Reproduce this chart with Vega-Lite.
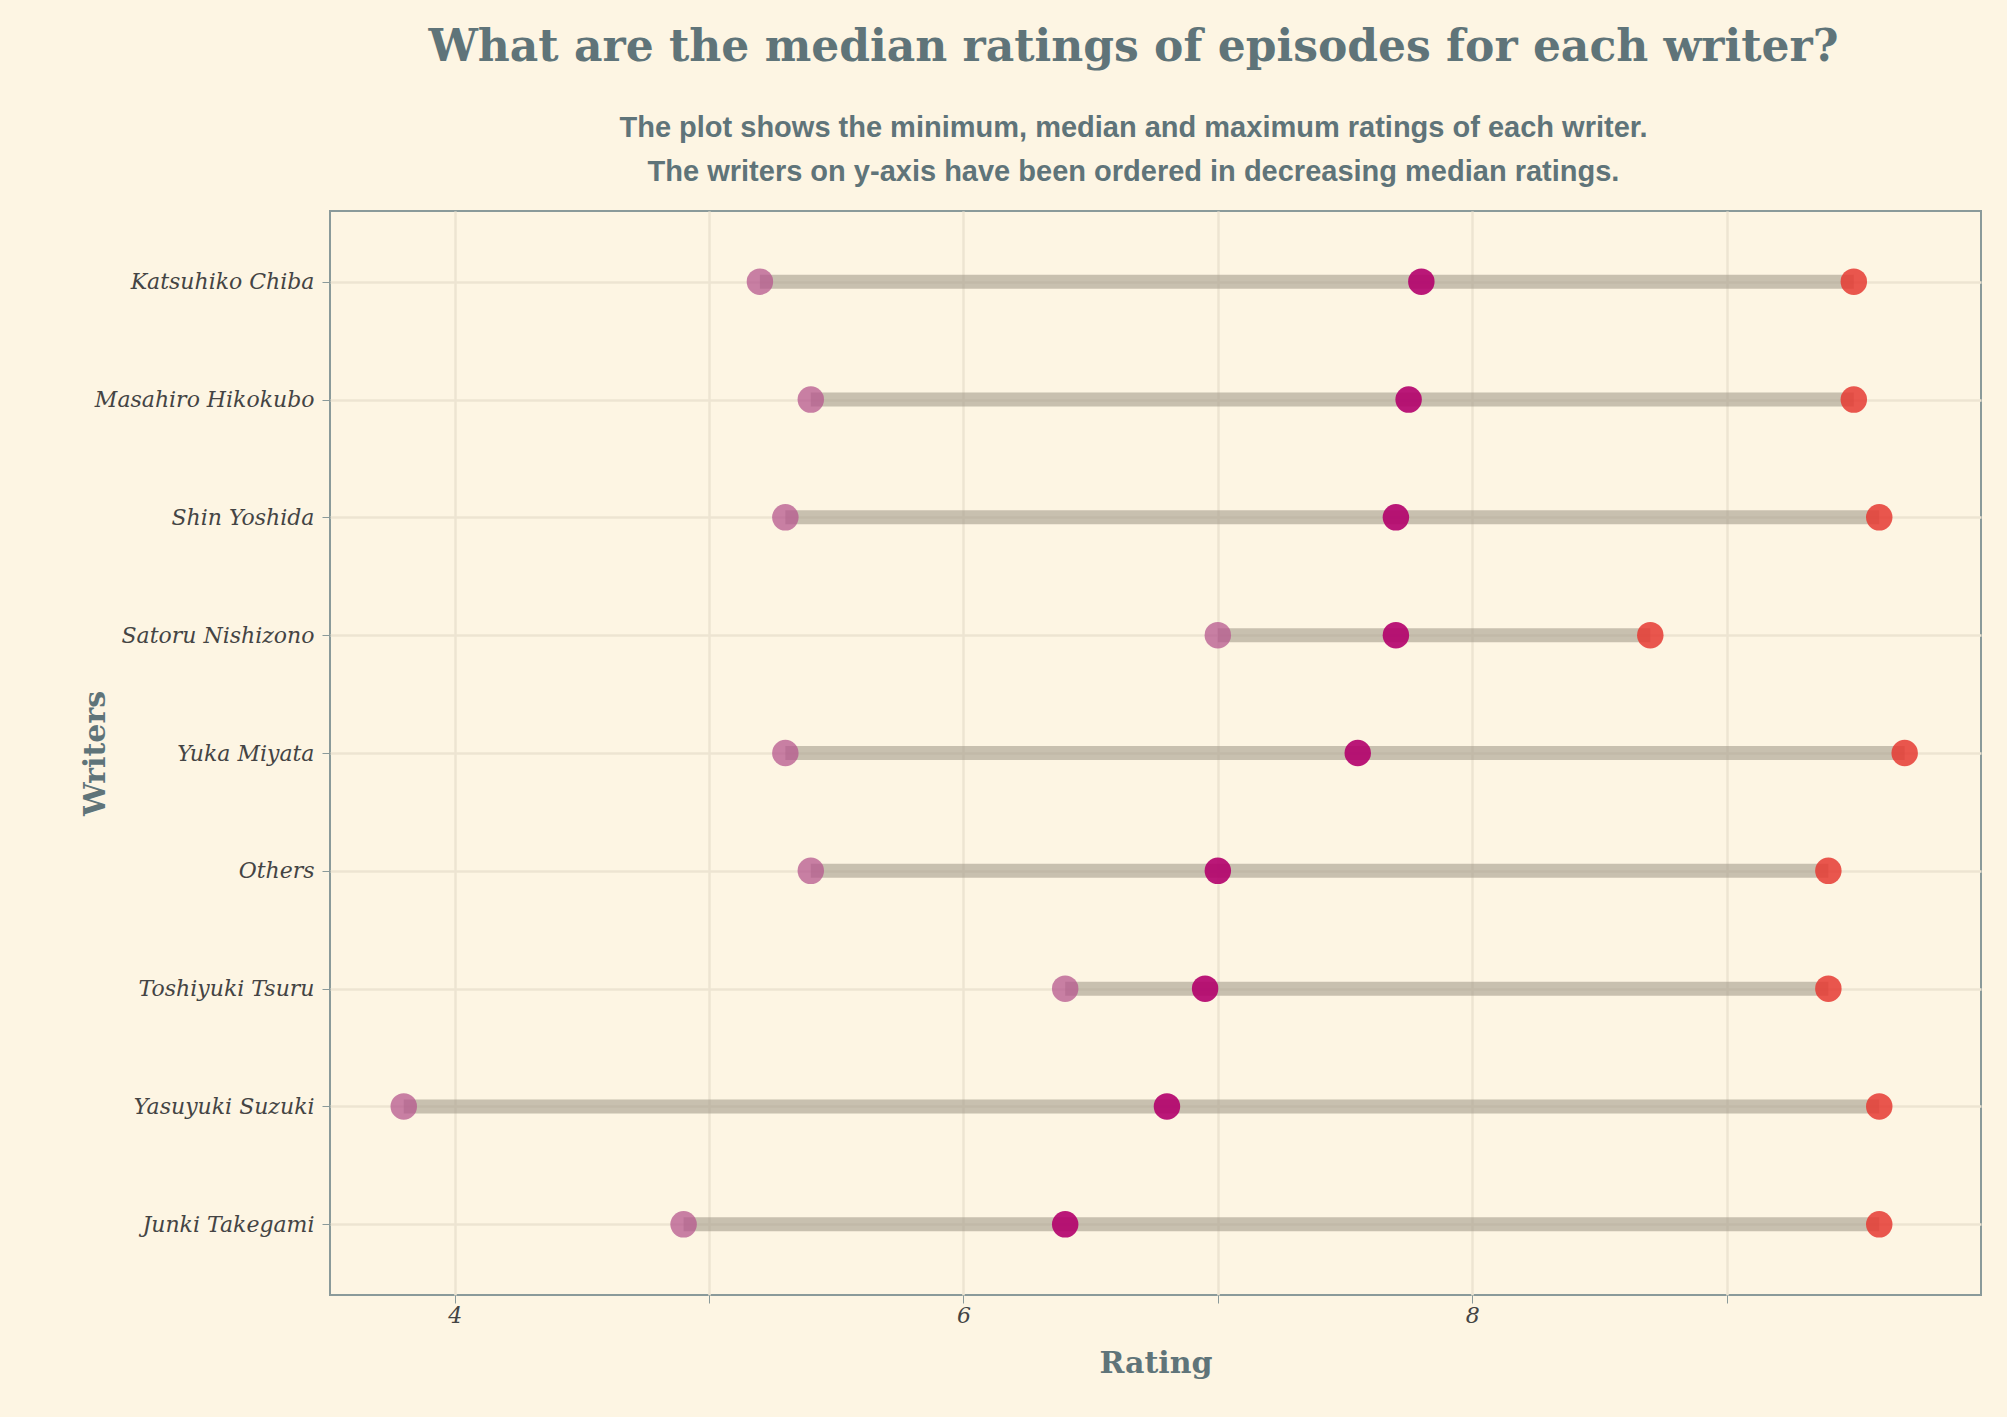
{
  "$schema": "https://vega.github.io/schema/vega-lite/v6.json",
  "width": 1651,
  "height": 1084,
  "autosize": "none",
  "padding": {"left": 330, "top": 211, "right": 26, "bottom": 122},
  "background": "#fdf5e3",
  "title": {
    "text": "What are the median ratings of episodes for each writer?",
    "subtitle": ["The plot shows the minimum, median and maximum ratings of each writer.", "The writers on y-axis have been ordered in decreasing median ratings."],
    "font": "DejaVu Serif",
    "fontSize": 44,
    "fontWeight": "bold",
    "color": "#5f7479",
    "subtitleFont": "Liberation Sans",
    "subtitleFontSize": 29,
    "subtitleFontWeight": "bold",
    "subtitleColor": "#5f7479",
    "subtitlePadding": 44,
    "subtitleLineHeight": 44,
    "anchor": "middle",
    "dx": -22,
    "offset": 24
  },
  "config": {
    "view": {"stroke": "#8a9a9a", "strokeWidth": 2},
    "axis": {"gridColor": "#ede4d2", "gridWidth": 2.5, "domain": false, "labelFont": "DejaVu Serif", "labelFontStyle": "italic", "labelColor": "#444444", "labelFontSize": 22, "labelLimit": 400, "titleFont": "DejaVu Serif", "titleFontWeight": "bold", "titleColor": "#5f7479", "titleFontSize": 30, "tickColor": "#8a9a9a"}
  },
  "data": {
    "values": [
      {"writer": "Katsuhiko Chiba", "min": 5.2, "median": 7.8, "max": 9.5},
      {"writer": "Masahiro Hikokubo", "min": 5.4, "median": 7.75, "max": 9.5},
      {"writer": "Shin Yoshida", "min": 5.3, "median": 7.7, "max": 9.6},
      {"writer": "Satoru Nishizono", "min": 7.0, "median": 7.7, "max": 8.7},
      {"writer": "Yuka Miyata", "min": 5.3, "median": 7.55, "max": 9.7},
      {"writer": "Others", "min": 5.4, "median": 7.0, "max": 9.4},
      {"writer": "Toshiyuki Tsuru", "min": 6.4, "median": 6.95, "max": 9.4},
      {"writer": "Yasuyuki Suzuki", "min": 3.8, "median": 6.8, "max": 9.6},
      {"writer": "Junki Takegami", "min": 4.9, "median": 6.4, "max": 9.6}
    ]
  },
  "encoding": {
    "y": {"field": "writer", "type": "nominal", "sort": null, "title": "Writers",
      "scale": {"type": "point", "padding": 0.6},
      "axis": {"grid": true, "titlePadding": 20, "labelPadding": 8, "tickSize": 8}}
  },
  "layer": [
    {
      "mark": {"type": "rule", "strokeWidth": 14, "color": "#a59d8c", "opacity": 0.6},
      "encoding": {
        "x": {"field": "min", "type": "quantitative", "title": "Rating",
          "scale": {"domain": [3.51, 10.0], "nice": false, "zero": false},
          "axis": {"values": [4, 5, 6, 7, 8, 9], "format": "d", "labelExpr": "datum.value % 2 == 0 ? datum.label : ''", "tickSize": 8, "titlePadding": 22}},
        "x2": {"field": "max"}
      }
    },
    {
      "mark": {"type": "circle", "size": 700, "color": "#b5578e", "opacity": 0.75},
      "encoding": {"x": {"field": "min", "type": "quantitative"}}
    },
    {
      "mark": {"type": "circle", "size": 700, "color": "#b3006c", "opacity": 0.9},
      "encoding": {"x": {"field": "median", "type": "quantitative"}}
    },
    {
      "mark": {"type": "circle", "size": 700, "color": "#e53a32", "opacity": 0.85},
      "encoding": {"x": {"field": "max", "type": "quantitative"}}
    }
  ]
}
